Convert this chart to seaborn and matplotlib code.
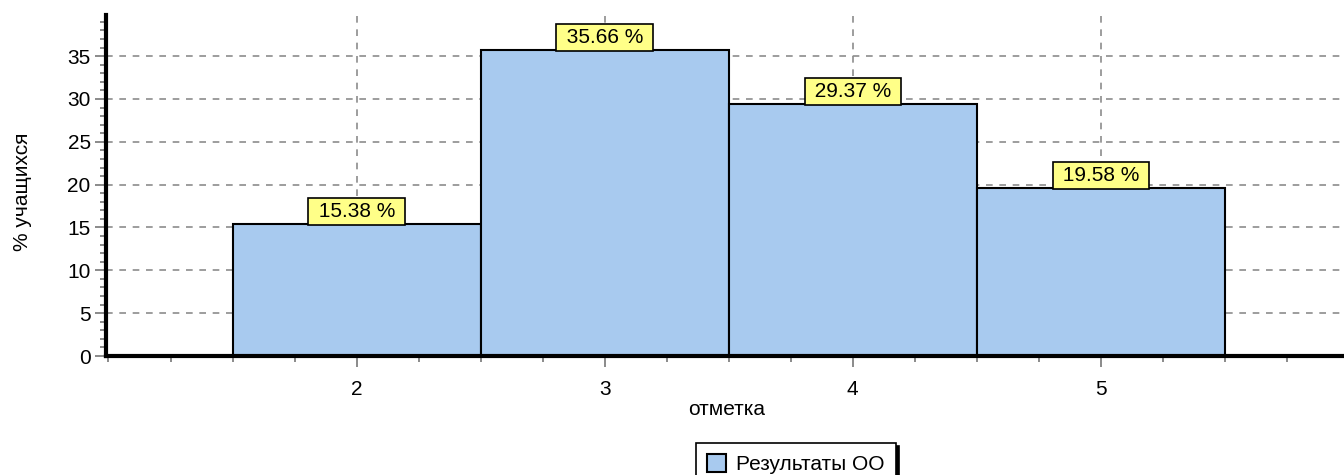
import matplotlib
matplotlib.use("Agg")
import matplotlib.pyplot as plt
import seaborn as sns
import pandas as pd
from matplotlib.ticker import MultipleLocator

# Данные
marks = [2, 3, 4, 5]
percents = [15.38, 35.66, 29.37, 19.58]
series_name = "Результаты ОО"

df = pd.DataFrame({"mark": marks, "pct": percents})

sns.set_style("white")
plt.rcParams["font.family"] = ["Liberation Sans", "DejaVu Sans"]
plt.rcParams["font.size"] = 15
plt.rcParams["text.color"] = "black"
plt.rcParams["axes.labelcolor"] = "black"
plt.rcParams["xtick.color"] = "#777777"
plt.rcParams["ytick.color"] = "#777777"
plt.rcParams["xtick.labelcolor"] = "black"
plt.rcParams["ytick.labelcolor"] = "black"

fig = plt.figure(figsize=(13.44, 4.75), dpi=100)
ax = fig.add_axes([106 / 1344, 1 - 356 / 475, 1 - 106 / 1344, (356 - 15) / 475])

sns.barplot(data=df, x="mark", y="pct", native_scale=True, width=1,
            color="#A8CAEF", saturation=1, edgecolor="black", linewidth=1.5,
            label=series_name, ax=ax, zorder=2)

ax.set_xlim(0.99, 5.98)
ax.set_ylim(0, 39.8)

# Деления
ax.xaxis.set_minor_locator(MultipleLocator(0.25))
ax.yaxis.set_major_locator(MultipleLocator(5))
ax.yaxis.set_minor_locator(MultipleLocator(1))
ax.set_xticks(marks)
ax.tick_params(axis="both", which="both", bottom=True, left=True, direction="out")
ax.tick_params(axis="both", which="major", length=8, width=1.2, labelsize=15)
ax.tick_params(axis="both", which="minor", length=4, width=1.2)
ax.tick_params(axis="x", which="major", pad=9)
ax.tick_params(axis="y", which="major", pad=3)

# Сетка
ax.grid(True, which="major", axis="both", linestyle=(0, (4, 4)),
        color="#8c8c8c", linewidth=1.2)
ax.set_axisbelow(True)

for side in ["top", "right"]:
    ax.spines[side].set_visible(False)
ax.spines["left"].set_linewidth(3)
ax.spines["bottom"].set_linewidth(3)
ax.spines["left"].set_color("black")
ax.spines["bottom"].set_color("black")

# Подписи значений
for m, p in zip(marks, percents):
    ax.annotate(f" {p:.2f} % ", xy=(m, p), xytext=(0, 2.5), textcoords="offset points",
                ha="center", va="bottom", fontsize=15, zorder=4,
                bbox=dict(boxstyle="square,pad=0.2", facecolor="#FFFF88",
                          edgecolor="black", linewidth=1.2))

ax.set_xlabel("отметка", fontsize=15)
ax.xaxis.set_label_coords((727 - 106) / 1238, (356 - 400) / 341)
ax.set_ylabel("% учащихся", fontsize=15)
ax.yaxis.set_label_coords(-(106 - 32) / 1238, (356 - 192) / 341)

leg = ax.legend(loc="upper center", bbox_to_anchor=(796 / 1344, 1 - 443 / 475),
                bbox_transform=fig.transFigure, borderaxespad=0, frameon=True,
                fancybox=False, shadow={"color": "black", "alpha": 1}, fontsize=15,
                handlelength=0.9, handleheight=0.9, handletextpad=0.5,
                borderpad=0.55, edgecolor="black")
leg.get_frame().set_linewidth(1.2)
leg.get_frame().set_alpha(1)

fig.savefig("out.png", dpi=100)
